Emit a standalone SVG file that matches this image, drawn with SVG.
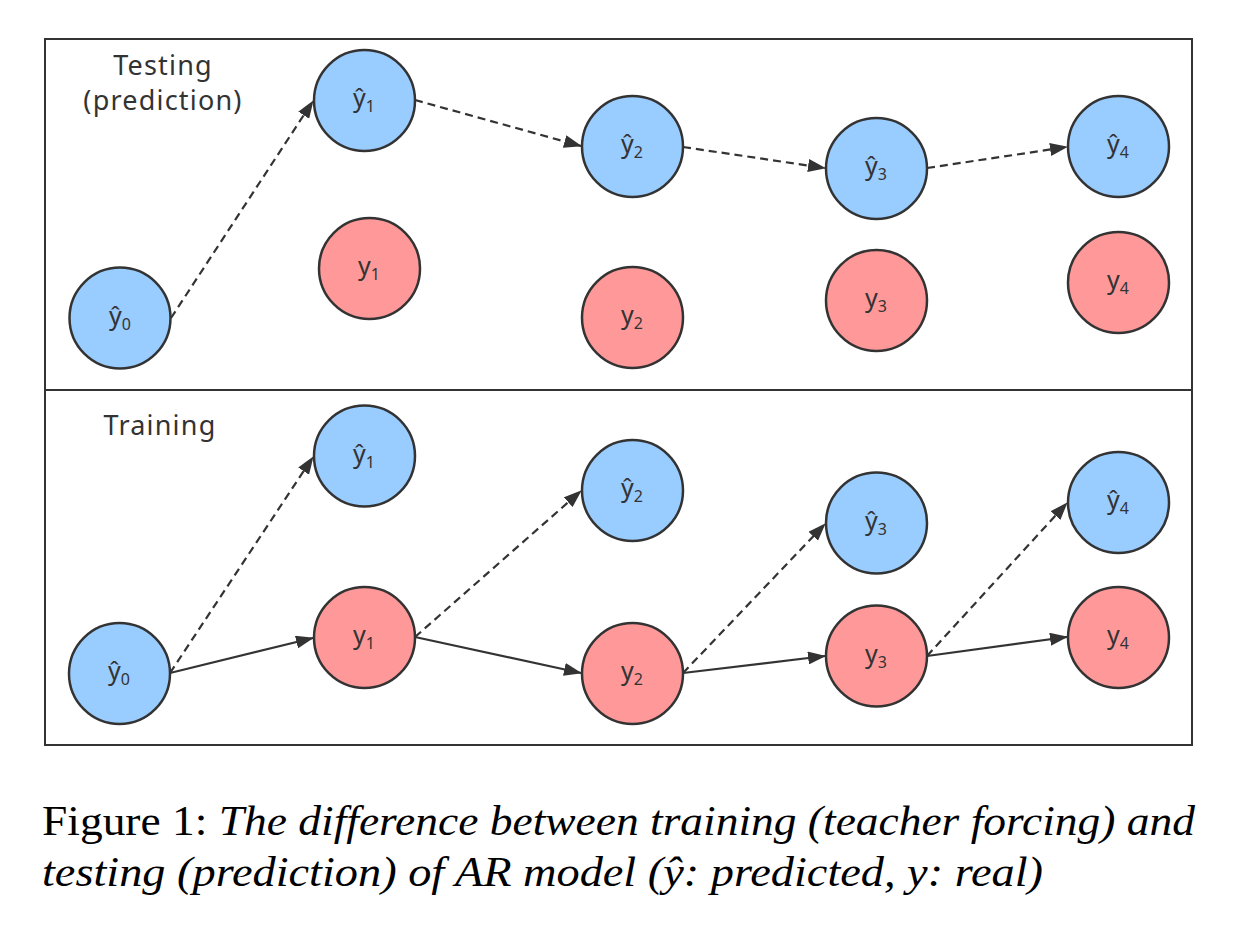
<svg xmlns="http://www.w3.org/2000/svg" width="1247" height="940" viewBox="0 0 1247 940">
<style>
.frame{fill:none;stroke:#333;stroke-width:2}
.pred{fill:#99CCFF;stroke:#333;stroke-width:2.5}
.real{fill:#FF9999;stroke:#333;stroke-width:2.5}
.lbl{font-family:"Noto Sans","Open Sans","DejaVu Sans",sans-serif;font-size:25px;fill:#333;text-anchor:middle}
.sub{font-size:16px}
.title{font-family:"Noto Sans","Open Sans","DejaVu Sans",sans-serif;font-size:27px;fill:#333;text-anchor:middle;letter-spacing:1.2px}
.edge{fill:none;stroke:#333;stroke-width:2.2;marker-end:url(#arr)}
.dash{stroke-dasharray:8 5}
.cap{font-family:"Liberation Serif","Times New Roman",serif;font-size:43px;fill:#000}
</style>
<defs>
<marker id="arr" viewBox="0 0 18 13" refX="17" refY="6.5" markerWidth="18" markerHeight="13" markerUnits="userSpaceOnUse" orient="auto">
<path d="M0,0 L18,6.5 L0,13 Z" fill="#333"/>
</marker>
</defs>
<rect class="frame" x="45" y="39" width="1147" height="351"/>
<rect class="frame" x="45" y="390" width="1147" height="355"/>
<text class="title" x="163" y="75">Testing</text>
<text class="title" x="163" y="110">(prediction)</text>
<text class="title" x="160" y="435">Training</text>
<g id="connectors">
<line class="edge dash" x1="171" y1="318" x2="313" y2="101"/>
<line class="edge dash" x1="415" y1="100" x2="581" y2="146"/>
<line class="edge dash" x1="683" y1="147" x2="825" y2="168"/>
<line class="edge dash" x1="927" y1="168" x2="1067" y2="147"/>
<line class="edge dash" x1="170" y1="673" x2="313" y2="457"/>
<line class="edge" x1="170" y1="673" x2="313" y2="638"/>
<line class="edge dash" x1="415" y1="637" x2="581" y2="491"/>
<line class="edge" x1="415" y1="637" x2="581" y2="673"/>
<line class="edge dash" x1="683" y1="673" x2="825" y2="524"/>
<line class="edge" x1="683" y1="673" x2="825" y2="656"/>
<line class="edge dash" x1="927" y1="656" x2="1067" y2="503"/>
<line class="edge" x1="927" y1="656" x2="1067" y2="637"/>
</g>
<g id="t_yhat0"><circle class="pred" cx="120" cy="318" r="50.5"/><text class="lbl" x="120" y="325">ŷ<tspan class="sub" dy="5">0</tspan></text></g>
<g id="t_yhat1"><circle class="pred" cx="364.5" cy="100.5" r="50.5"/><text class="lbl" x="364" y="107">ŷ<tspan class="sub" dy="5">1</tspan></text></g>
<g id="t_y1"><circle class="real" cx="369.5" cy="268.5" r="50.5"/><text class="lbl" x="369" y="275">y<tspan class="sub" dy="5">1</tspan></text></g>
<g id="t_yhat2"><circle class="pred" cx="632.5" cy="146.5" r="50.5"/><text class="lbl" x="632" y="153">ŷ<tspan class="sub" dy="5">2</tspan></text></g>
<g id="t_y2"><circle class="real" cx="632.5" cy="317.5" r="50.5"/><text class="lbl" x="632" y="324">y<tspan class="sub" dy="5">2</tspan></text></g>
<g id="t_yhat3"><circle class="pred" cx="876.5" cy="168.5" r="50.5"/><text class="lbl" x="876" y="175">ŷ<tspan class="sub" dy="5">3</tspan></text></g>
<g id="t_y3"><circle class="real" cx="876.5" cy="300.5" r="50.5"/><text class="lbl" x="876" y="307">y<tspan class="sub" dy="5">3</tspan></text></g>
<g id="t_yhat4"><circle class="pred" cx="1118.5" cy="146.5" r="50.5"/><text class="lbl" x="1118" y="153">ŷ<tspan class="sub" dy="5">4</tspan></text></g>
<g id="t_y4"><circle class="real" cx="1118.5" cy="282.5" r="50.5"/><text class="lbl" x="1118" y="289">y<tspan class="sub" dy="5">4</tspan></text></g>
<g id="r_yhat0"><circle class="pred" cx="119.5" cy="673.5" r="50.5"/><text class="lbl" x="119" y="680">ŷ<tspan class="sub" dy="5">0</tspan></text></g>
<g id="r_yhat1"><circle class="pred" cx="364.5" cy="456" r="50.5"/><text class="lbl" x="364" y="463">ŷ<tspan class="sub" dy="5">1</tspan></text></g>
<g id="r_y1"><circle class="real" cx="364.5" cy="637.5" r="50.5"/><text class="lbl" x="364" y="644">y<tspan class="sub" dy="5">1</tspan></text></g>
<g id="r_yhat2"><circle class="pred" cx="632.5" cy="490.5" r="50.5"/><text class="lbl" x="632" y="497">ŷ<tspan class="sub" dy="5">2</tspan></text></g>
<g id="r_y2"><circle class="real" cx="632.5" cy="673.5" r="50.5"/><text class="lbl" x="632" y="680">y<tspan class="sub" dy="5">2</tspan></text></g>
<g id="r_yhat3"><circle class="pred" cx="876.5" cy="523" r="50.5"/><text class="lbl" x="876" y="530">ŷ<tspan class="sub" dy="5">3</tspan></text></g>
<g id="r_y3"><circle class="real" cx="876.5" cy="656" r="50.5"/><text class="lbl" x="876" y="663">y<tspan class="sub" dy="5">3</tspan></text></g>
<g id="r_yhat4"><circle class="pred" cx="1118.5" cy="502.5" r="50.5"/><text class="lbl" x="1118" y="509">ŷ<tspan class="sub" dy="5">4</tspan></text></g>
<g id="r_y4"><circle class="real" cx="1118.5" cy="637.5" r="50.5"/><text class="lbl" x="1118" y="644">y<tspan class="sub" dy="5">4</tspan></text></g>
<text class="cap" x="42" y="835" textLength="1153" lengthAdjust="spacingAndGlyphs">Figure 1: <tspan font-style="italic">The difference between training (teacher forcing) and</tspan></text>
<text class="cap" x="42" y="886" font-style="italic" textLength="1001" lengthAdjust="spacingAndGlyphs">testing (prediction) of AR model (ŷ: predicted, y: real)</text>
</svg>
